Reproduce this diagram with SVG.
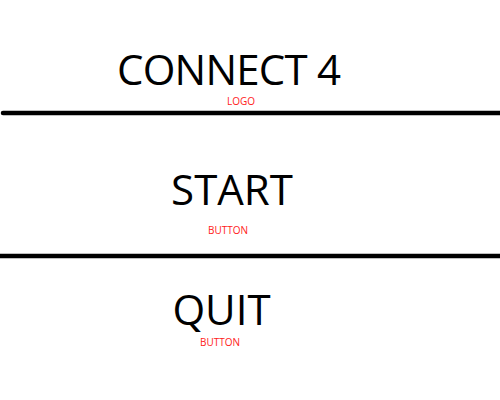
<svg xmlns="http://www.w3.org/2000/svg" width="500" height="400" viewBox="0 0 500 400">
<style>
.big{font-family:"Open Sans","Liberation Sans",sans-serif;font-size:42px;fill:#000;text-anchor:middle}
.lbl{font-family:"Open Sans","Liberation Sans",sans-serif;font-size:10px;fill:#ff1a1a;text-anchor:middle}
.sep{stroke:#000;stroke-width:4.5;stroke-linecap:round}
</style>
<rect width="500" height="400" fill="#fff"/>
<g id="logo">
<text class="big" x="229" y="85" textLength="224">CONNECT 4</text>
<text class="lbl" x="241" y="105">LOGO</text>
</g>
<g id="connectors">
<line class="sep" x1="3" y1="113" x2="502" y2="113"/>
<line class="sep" x1="-3" y1="256" x2="502" y2="256"/>
</g>
<g id="start">
<text class="big" x="232" y="205">START</text>
<text class="lbl" x="228" y="234">BUTTON</text>
</g>
<g id="quit">
<text class="big" x="221.5" y="325">QUIT</text>
<text class="lbl" x="220" y="346">BUTTON</text>
</g>
</svg>
